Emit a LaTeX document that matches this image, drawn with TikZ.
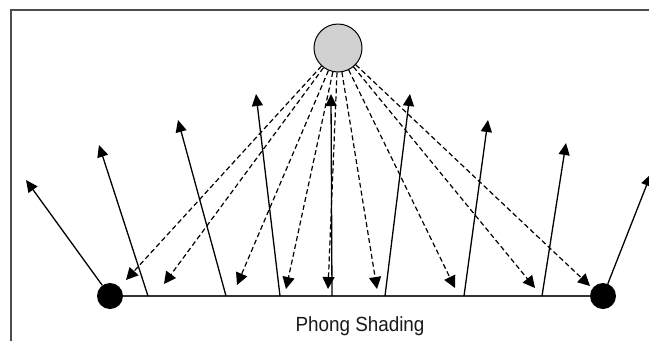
\documentclass[tikz,border=0pt]{standalone}
\usepackage{fontspec}
\setmainfont{Liberation Sans}
\newfontfamily\captionface[FakeStretch=0.92]{Liberation Sans}
\usetikzlibrary{arrows.meta}
\tikzset{
  frameline/.style={draw=black!70, line width=2pt},
  baseline/.style={draw=black!80, line width=1.7pt},
  normalarrow/.style={draw=black, line width=1.3pt, -{Triangle[length=12pt,width=11pt]}},
  lightray/.style={draw=black, line width=1.2pt, dash pattern=on 5pt off 3pt, -{Triangle[length=12pt,width=12pt]}},
  vertexdot/.style={circle, fill=black, minimum size=26pt, inner sep=0pt},
  lamp/.style={circle, draw=black, line width=1pt, fill=black!18, minimum size=48pt, inner sep=0pt}
}
\begin{document}
\begin{tikzpicture}[x=1pt,y=-1pt]
  \clip (0,0) rectangle (649,341);
  \useasboundingbox (0,0) rectangle (649,341);

  % open frame: top and left edges only
  \draw[frameline] (649,10) -- (11,10) -- (11,341);

  % light source and the two vertices
  \node[lamp] (lamp) at (338,48) {};
  \node[vertexdot] (dl) at (110,296) {};
  \node[vertexdot] (dr) at (603,296) {};

  % surface
  \draw[baseline] (dl) -- (dr);

  % feet of the interpolated normals
  \coordinate (f2) at (148,296);
  \coordinate (f3) at (226,296);
  \coordinate (f4) at (280,296);
  \coordinate (f5) at (332,296);
  \coordinate (f6) at (385,296);
  \coordinate (f7) at (464,296);
  \coordinate (f8) at (542,296);

  % normal tips
  \coordinate (n1) at (26,180);
  \coordinate (n2) at (99,145);
  \coordinate (n3) at (178,120);
  \coordinate (n4) at (256,94);
  \coordinate (n5) at (331,94);
  \coordinate (n6) at (410,94);
  \coordinate (n7) at (488,120);
  \coordinate (n8) at (566,143);
  \coordinate (n9) at (651,174);

  % light ray ends
  \coordinate (r1) at (126,280);
  \coordinate (r2) at (164,284);
  \coordinate (r3) at (237,285);
  \coordinate (r4) at (286,289);
  \coordinate (r5) at (328,289);
  \coordinate (r6) at (377,289);
  \coordinate (r7) at (455,288);
  \coordinate (r8) at (535,288);
  \coordinate (r9) at (590,286);

  % light rays
  \foreach \r in {r1,r2,r3,r4,r5,r6,r7,r8,r9}
    \draw[lightray] (lamp) -- (\r);

  % normals
  \draw[normalarrow] (dl) -- (n1);
  \draw[normalarrow] (f2) -- (n2);
  \draw[normalarrow] (f3) -- (n3);
  \draw[normalarrow] (f4) -- (n4);
  \draw[normalarrow] (f5) -- (n5);
  \draw[normalarrow] (f6) -- (n6);
  \draw[normalarrow] (f7) -- (n7);
  \draw[normalarrow] (f8) -- (n8);
  \draw[normalarrow] (dr) -- (n9);

  % caption
  \node[anchor=base, text=black!90, font=\captionface\fontsize{20.5}{24}\selectfont, inner sep=0pt] (cap) at (360,331) {Phong Shading};
\end{tikzpicture}
\end{document}
